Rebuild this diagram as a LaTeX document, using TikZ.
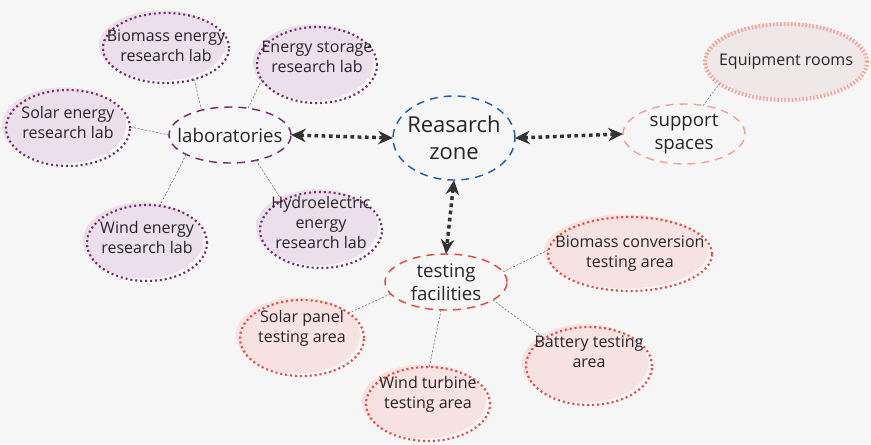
\documentclass[tikz,border=0pt]{standalone}
\usepackage{fontspec}
\setmainfont{Open Sans}
\usetikzlibrary{arrows.meta,shapes.geometric,shadows}

\definecolor{bgcol}{RGB}{246,246,246}
\definecolor{textcol}{RGB}{40,35,40}
\definecolor{arrowcol}{RGB}{51,51,51}
\definecolor{zoneblue}{RGB}{31,95,174}
\definecolor{labline}{RGB}{122,42,111}
\definecolor{labfill}{RGB}{236,223,236}
\definecolor{testline}{RGB}{232,72,62}
\definecolor{testfill}{RGB}{246,226,225}
\definecolor{suppline}{RGB}{246,161,154}
\definecolor{suppfill}{RGB}{238,232,232}

\begin{document}
\begin{tikzpicture}[
  x=0.75pt, y=-0.75pt,
  >={Stealth[length=11pt,width=10pt,inset=3.5pt]},
  every node/.style={ellipse,inner xsep=-45pt,inner ysep=-18pt,outer sep=0pt,align=center,text=textcol},
  hub/.style={draw,line width=1.1pt,dash pattern=on 6pt off 4.5pt,minimum width=91.5pt,minimum height=42pt,font=\fontsize{14}{17}\selectfont},
  leaf/.style={minimum width=93pt,minimum height=57pt,font=\fontsize{12}{15}\selectfont},
  lift/.style={text depth=#1},
  lableaf/.style={leaf,draw=labline,line width=1.6pt,dash pattern=on 1.5pt off 2.2pt,
    general shadow={draw=none,fill=labfill,shadow xshift=-3pt,shadow yshift=2pt}},
  testleaf/.style={leaf,draw=testline,line width=1.6pt,dash pattern=on 1.5pt off 2.2pt,
    general shadow={draw=none,fill=testfill,shadow xshift=-3pt,shadow yshift=2pt}},
  suppleaf/.style={leaf,draw=suppline,line width=3pt,dash pattern=on 1.2pt off 1.5pt,
    general shadow={draw=none,fill=suppfill,shadow xshift=-1pt,shadow yshift=1pt}},
  link/.style={draw=gray!80!black,line width=0.4pt,dash pattern=on 1.6pt off 1.2pt},
  bigarrow/.style={<->,draw=arrowcol,line width=2.6pt,dash pattern=on 2.8pt off 2.6pt},
  ]
  \fill[bgcol] (0,0) rectangle (871,444);
  \useasboundingbox (0,0) rectangle (871,444);

  % hubs
  \node[hub, draw=zoneblue, minimum height=63pt, font=\fontsize{16.5}{20}\selectfont] (zone) at (454,138) {Reasarch\\zone};
  \node[hub, draw=labline] (lab) at (230,135) {laboratories};
  \node[hub, draw=suppline, minimum height=45pt] (supp) at (684,134) {support\\spaces};
  \node[hub, draw=testline] (test) at (446,282) {testing\\facilities};

  % laboratories
  \node[lableaf, lift=4pt, minimum width=94.5pt, minimum height=52.5pt] (bio) at (166,48) {Biomass energy\\research lab};
  \node[lableaf, lift=12pt, minimum width=90pt] (store) at (317,65) {Energy storage\\research lab};
  \node[lableaf, lift=9pt] (solar) at (68,128) {Solar energy\\research lab};
  \node[lableaf, lift=8pt, minimum width=90pt] (wind) at (147,243) {Wind energy\\research lab};
  \node[lableaf, lift=12pt, minimum width=91.5pt] (hydro) at (321,230) {Hydroelectric\\energy\\research lab};

  % support
  \node[suppleaf, lift=3pt, minimum width=121.5pt] (equip) at (786,62) {Equipment rooms};

  % testing
  \node[testleaf, lift=4pt, minimum width=123pt, minimum height=55.5pt] (bioconv) at (630,254) {Biomass conversion\\testing area};
  \node[testleaf, lift=17pt] (panel) at (302,338) {Solar panel\\testing area};
  \node[testleaf, lift=17pt, minimum height=55.5pt] (turbine) at (428,404) {Wind turbine\\testing area};
  \node[testleaf, lift=21pt, minimum width=94.5pt, minimum height=58.5pt] (battery) at (589,366) {Battery testing\\area};

  \draw[bigarrow] (lab.east) -- (zone.west);
  \draw[bigarrow] (zone.east) -- (supp.west);
  \draw[bigarrow] (zone.south) -- (test.north);

  \draw[link] (lab.139) -- (bio.-48);
  \draw[link] (lab.56) -- (store.-165);
  \draw[link] (lab.180) -- (solar.1);
  \draw[link] (lab.-156) -- (wind.71);
  \draw[link] (lab.-44) -- (hydro.143);
  \draw[link] (supp.56) -- (equip.-162);
  \draw[link] (test.10) -- (bioconv.177);
  \draw[link] (test.-168) -- (panel.28);
  \draw[link] (test.-100) -- (turbine.88);
  \draw[link] (test.-21) -- (battery.148);

\end{tikzpicture}
\end{document}
